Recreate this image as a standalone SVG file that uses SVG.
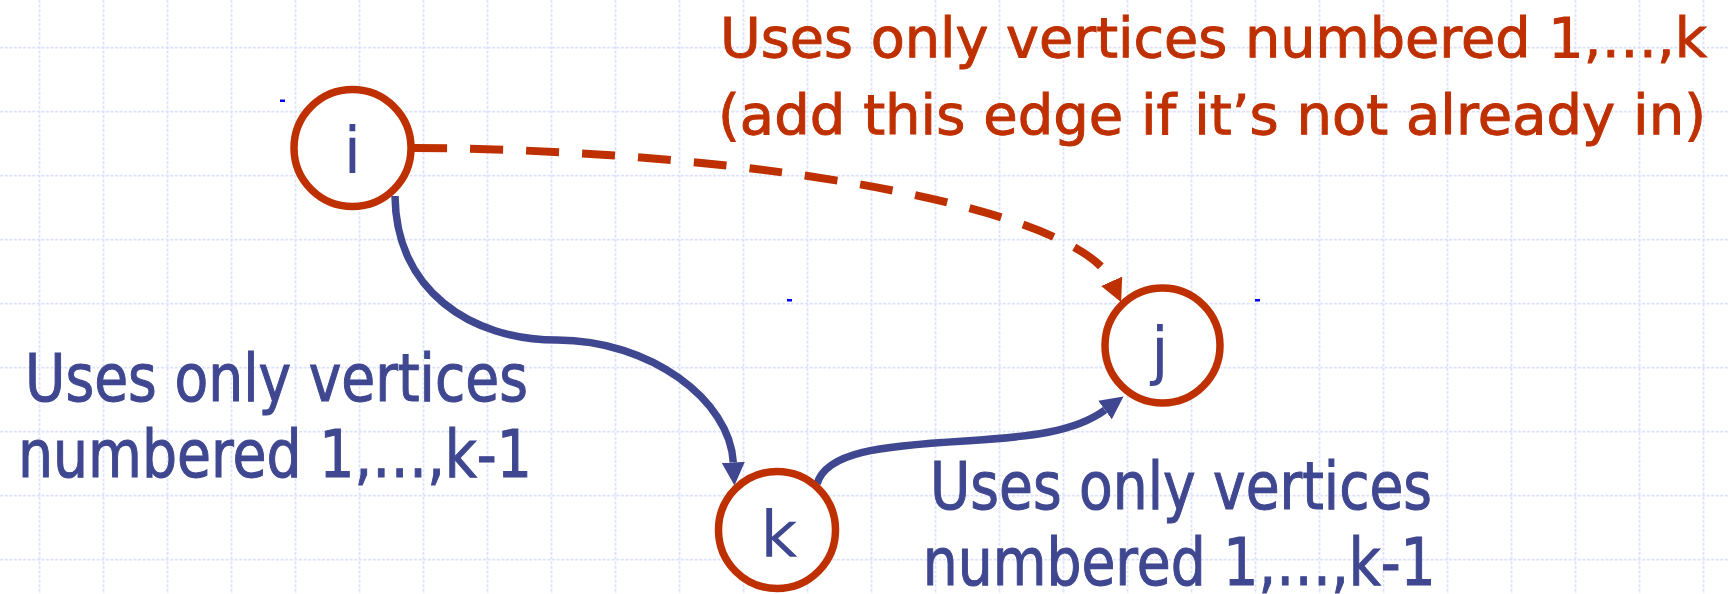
<svg xmlns="http://www.w3.org/2000/svg" width="1729" height="594" viewBox="0 0 1729 594">
<style>
.grid line{stroke:#dce3fa;stroke-width:1.8;stroke-dasharray:3 1.6}
.node circle{fill:#ffffff;stroke:#bf3000;stroke-width:7.5}
.lbl{font-family:"DejaVu Sans","Liberation Sans",sans-serif;font-size:64px;fill:#3f4790;text-anchor:middle}
.blue{font-family:"DejaVu Sans","Liberation Sans",sans-serif;font-size:65px;fill:#3f4790;stroke:#3f4790;stroke-width:1.1}
.red{font-family:"DejaVu Sans","Liberation Sans",sans-serif;font-size:56px;fill:#bf3000;stroke:#bf3000;stroke-width:1}
.edge-b{fill:none;stroke:#3f4790;stroke-width:7.5}
.edge-r{fill:none;stroke:#bf3000;stroke-width:8;stroke-dasharray:33 23}
.tick{fill:#0000ff}
</style>
<defs>
<marker id="ab" markerUnits="userSpaceOnUse" markerWidth="24" markerHeight="24" refX="0" refY="11.5" orient="auto" viewBox="0 0 24 24">
<path d="M0,0 L23,11.5 L0,23 Z" fill="#3f4790"/>
</marker>
<marker id="ar" markerUnits="userSpaceOnUse" markerWidth="24" markerHeight="24" refX="0" refY="11.5" orient="auto" viewBox="0 0 24 24">
<path d="M0,0 L23,11.5 L0,23 Z" fill="#bf3000"/>
</marker>
</defs>
<rect width="1729" height="594" fill="#ffffff"/>
<g class="grid">
<line x1="39.5" y1="0" x2="39.5" y2="594"/>
<line x1="103.5" y1="0" x2="103.5" y2="594"/>
<line x1="167.5" y1="0" x2="167.5" y2="594"/>
<line x1="231.5" y1="0" x2="231.5" y2="594"/>
<line x1="295.5" y1="0" x2="295.5" y2="594"/>
<line x1="359.5" y1="0" x2="359.5" y2="594"/>
<line x1="423.5" y1="0" x2="423.5" y2="594"/>
<line x1="487.5" y1="0" x2="487.5" y2="594"/>
<line x1="551.5" y1="0" x2="551.5" y2="594"/>
<line x1="615.5" y1="0" x2="615.5" y2="594"/>
<line x1="679.5" y1="0" x2="679.5" y2="594"/>
<line x1="743.5" y1="0" x2="743.5" y2="594"/>
<line x1="807.5" y1="0" x2="807.5" y2="594"/>
<line x1="871.5" y1="0" x2="871.5" y2="594"/>
<line x1="935.5" y1="0" x2="935.5" y2="594"/>
<line x1="999.5" y1="0" x2="999.5" y2="594"/>
<line x1="1063.5" y1="0" x2="1063.5" y2="594"/>
<line x1="1127.5" y1="0" x2="1127.5" y2="594"/>
<line x1="1191.5" y1="0" x2="1191.5" y2="594"/>
<line x1="1255.5" y1="0" x2="1255.5" y2="594"/>
<line x1="1319.5" y1="0" x2="1319.5" y2="594"/>
<line x1="1383.5" y1="0" x2="1383.5" y2="594"/>
<line x1="1447.5" y1="0" x2="1447.5" y2="594"/>
<line x1="1511.5" y1="0" x2="1511.5" y2="594"/>
<line x1="1575.5" y1="0" x2="1575.5" y2="594"/>
<line x1="1639.5" y1="0" x2="1639.5" y2="594"/>
<line x1="1703.5" y1="0" x2="1703.5" y2="594"/>
<line x1="0" y1="47.7" x2="1729" y2="47.7"/>
<line x1="0" y1="111.7" x2="1729" y2="111.7"/>
<line x1="0" y1="175.7" x2="1729" y2="175.7"/>
<line x1="0" y1="239.7" x2="1729" y2="239.7"/>
<line x1="0" y1="303.7" x2="1729" y2="303.7"/>
<line x1="0" y1="367.7" x2="1729" y2="367.7"/>
<line x1="0" y1="431.7" x2="1729" y2="431.7"/>
<line x1="0" y1="495.7" x2="1729" y2="495.7"/>
<line x1="0" y1="559.7" x2="1729" y2="559.7"/>
</g>
<rect class="tick" x="280" y="99.5" width="5" height="2.5"/>
<rect class="tick" x="787" y="299" width="5" height="2.5"/>
<rect class="tick" x="1255" y="299" width="5" height="2.5"/>
<g id="connectors">
<path id="e-ij" class="edge-r" d="M414,148 C760,150 1079,208.5 1111.7,281.3" marker-end="url(#ar)"/>
<path id="e-ik" class="edge-b" d="M395,196 C396,290 470,340 557,340 C650,340 730,400 733.3,462.5" marker-end="url(#ab)"/>
<path id="e-kj" class="edge-b" d="M817,484 C826,452 880,446 965,441 C1030,437 1075,432 1105,410" marker-end="url(#ab)"/>
</g>
<g id="node-i" class="node">
<circle cx="352.5" cy="148" r="58.5"/>
<text class="lbl" x="352.5" y="173">i</text>
</g>
<g id="node-j" class="node">
<circle cx="1162.5" cy="345.5" r="57.5"/>
<text class="lbl" x="1160" y="373">j</text>
</g>
<g id="node-k" class="node">
<circle cx="777" cy="530" r="58.5"/>
<text class="lbl" x="779" y="557">k</text>
</g>
<g id="label-top">
<text class="red" x="720" y="57" textLength="987" lengthAdjust="spacingAndGlyphs">Uses only vertices numbered 1,…,k</text>
<text class="red" x="718" y="134" textLength="988" lengthAdjust="spacingAndGlyphs">(add this edge if it’s not already in)</text>
</g>
<g id="label-left">
<text class="blue" x="25" y="401" textLength="503" lengthAdjust="spacingAndGlyphs">Uses only vertices</text>
<text class="blue" x="18" y="477" textLength="514" lengthAdjust="spacingAndGlyphs">numbered 1,…,k-1</text>
</g>
<g id="label-bottom">
<text class="blue" x="930" y="509" textLength="502" lengthAdjust="spacingAndGlyphs">Uses only vertices</text>
<text class="blue" x="922.7" y="585" textLength="513" lengthAdjust="spacingAndGlyphs">numbered 1,…,k-1</text>
</g>
</svg>
